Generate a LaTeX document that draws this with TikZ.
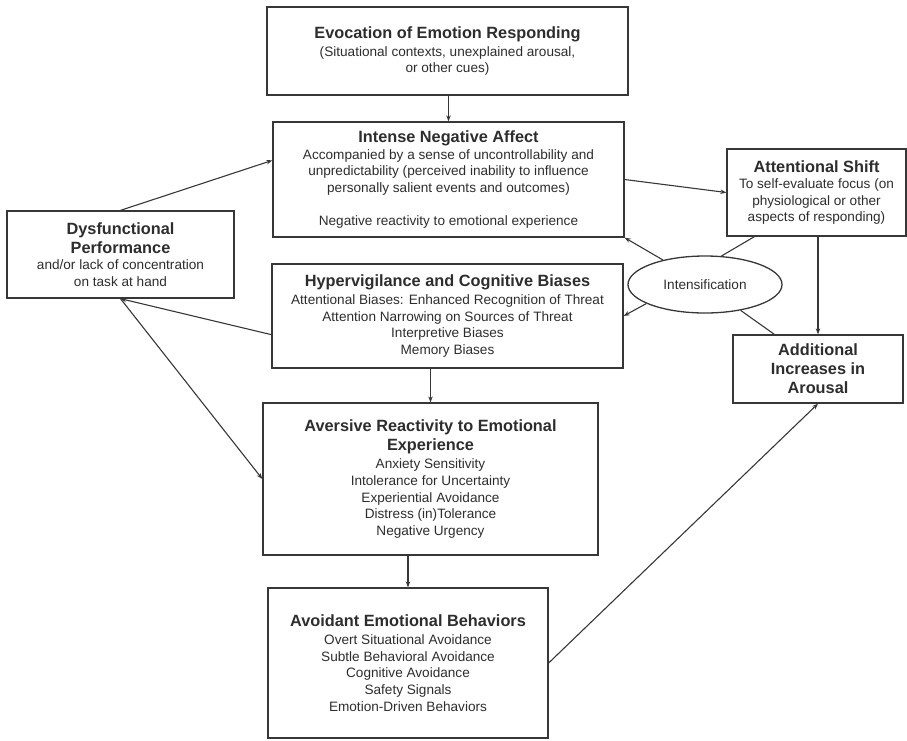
\documentclass[tikz,border=0pt]{standalone}
\usepackage{fontspec}
\setmainfont{Liberation Sans}
\usetikzlibrary{arrows.meta,shapes.geometric,positioning}
\definecolor{LineGray}{RGB}{55,55,55}
\definecolor{TextGray}{RGB}{45,45,45}
\newcommand{\hdfont}{\fontsize{16.3}{19}\selectfont\bfseries}
\newcommand{\txfont}{\fontsize{13.6}{16.6}\selectfont}
\tikzset{
  fbox/.style={draw=LineGray,rectangle,line width=1.3pt,
               align=center,text=TextGray,font=\txfont,inner sep=2pt},
  ebox/.style={draw=LineGray,ellipse,line width=1.3pt,
               text=TextGray,font=\txfont,inner sep=0pt},
  arr/.style={-{Stealth[length=6pt,width=4.5pt]},LineGray,line width=1.1pt},
  lnk/.style={LineGray,line width=1.1pt},
}
\begin{document}
\begin{tikzpicture}[
  x=1pt, y=-1pt,
  >=stealth
]
\useasboundingbox (0,0) rectangle (907,740);

\node[fbox, minimum width=361pt, minimum height=88pt] (evoc) at (447.5,51)
  {{\hdfont Evocation of Emotion Responding}\\[1pt]
   (Situational contexts, unexplained arousal,\\ or other cues)};
\node[fbox, minimum width=351pt, minimum height=115pt] (ina) at (448.5,179.5)
  {{\hdfont Intense Negative Affect}\\
   Accompanied by a sense of uncontrollability and\\
   unpredictability (perceived inability to influence\\
   personally salient events and outcomes)\\[16.6pt]
   Negative reactivity to emotional experience};
\node[fbox, minimum width=227pt, minimum height=87pt] (dysf) at (120.5,254.5)
  {{\hdfont Dysfunctional}\\[2.5pt] {\hdfont Performance}\\
   and/or lack of concentration\\ on task at hand};
\node[fbox, minimum width=351pt, minimum height=104pt] (hyper) at (447.5,316)
  {{\hdfont Hypervigilance and Cognitive Biases}\\[1.5pt]
   Attentional Biases: Enhanced Recognition of Threat\\
   Attention Narrowing on Sources of Threat\\
   Interpretive Biases\\ Memory Biases};
\node[fbox, minimum width=179pt, minimum height=87pt] (atten) at (816.5,192.5)
  {{\hdfont Attentional Shift}\\
   To self-evaluate focus (on\\ physiological or other\\
   aspects of responding)};
\node[ebox, minimum width=154pt, minimum height=57pt] (intens) at (705,284.5)
  {Intensification};
\node[fbox, minimum width=170pt, minimum height=68pt] (addar) at (818,369)
  {{\hdfont Additional}\\[2.5pt] {\hdfont Increases in}\\[2.5pt] {\hdfont Arousal}};
\node[fbox, minimum width=335pt, minimum height=152pt] (aver) at (430.5,479)
  {{\hdfont Aversive Reactivity to Emotional}\\[2.5pt] {\hdfont Experience}\\[1.5pt]
   Anxiety Sensitivity\\ Intolerance for Uncertainty\\
   Experiential Avoidance\\ Distress (in)Tolerance\\ Negative Urgency};
\node[fbox, minimum width=280pt, minimum height=150pt] (avoid) at (408,663)
  {{\hdfont Avoidant Emotional Behaviors}\\[1.5pt]
   Overt Situational Avoidance\\ Subtle Behavioral Avoidance\\
   Cognitive Avoidance\\ Safety Signals\\ Emotion-Driven Behaviors};

% main chain
\draw[arr] (ina.north |- evoc.south) -- (ina.north);
\draw[arr] (aver.north |- hyper.south) -- (aver.north);
\draw[arr] (avoid.north |- aver.south) -- (avoid.north);
\draw[arr] (ina.east) -- (atten.west);
% performance loop
\draw[arr] (dysf.north) -- ([yshift=-39pt]ina.north west);
\draw[arr] ([yshift=34pt]hyper.south west) -- (dysf.south);
\draw[arr] (dysf.south) -- (aver.west);
% intensification
\draw[arr] (intens) -- (ina.south east);
\draw[arr] (intens.198) -- (hyper.east);
\draw[lnk] ([xshift=28pt]atten.south west) -- (intens.60);
\draw[lnk] (intens.-36) -- ([xshift=42pt]addar.north west);
\draw[arr] (addar.north |- atten.south) -- (addar.north);
\draw[arr] (avoid.east) -- (addar.south);
\end{tikzpicture}
\end{document}
